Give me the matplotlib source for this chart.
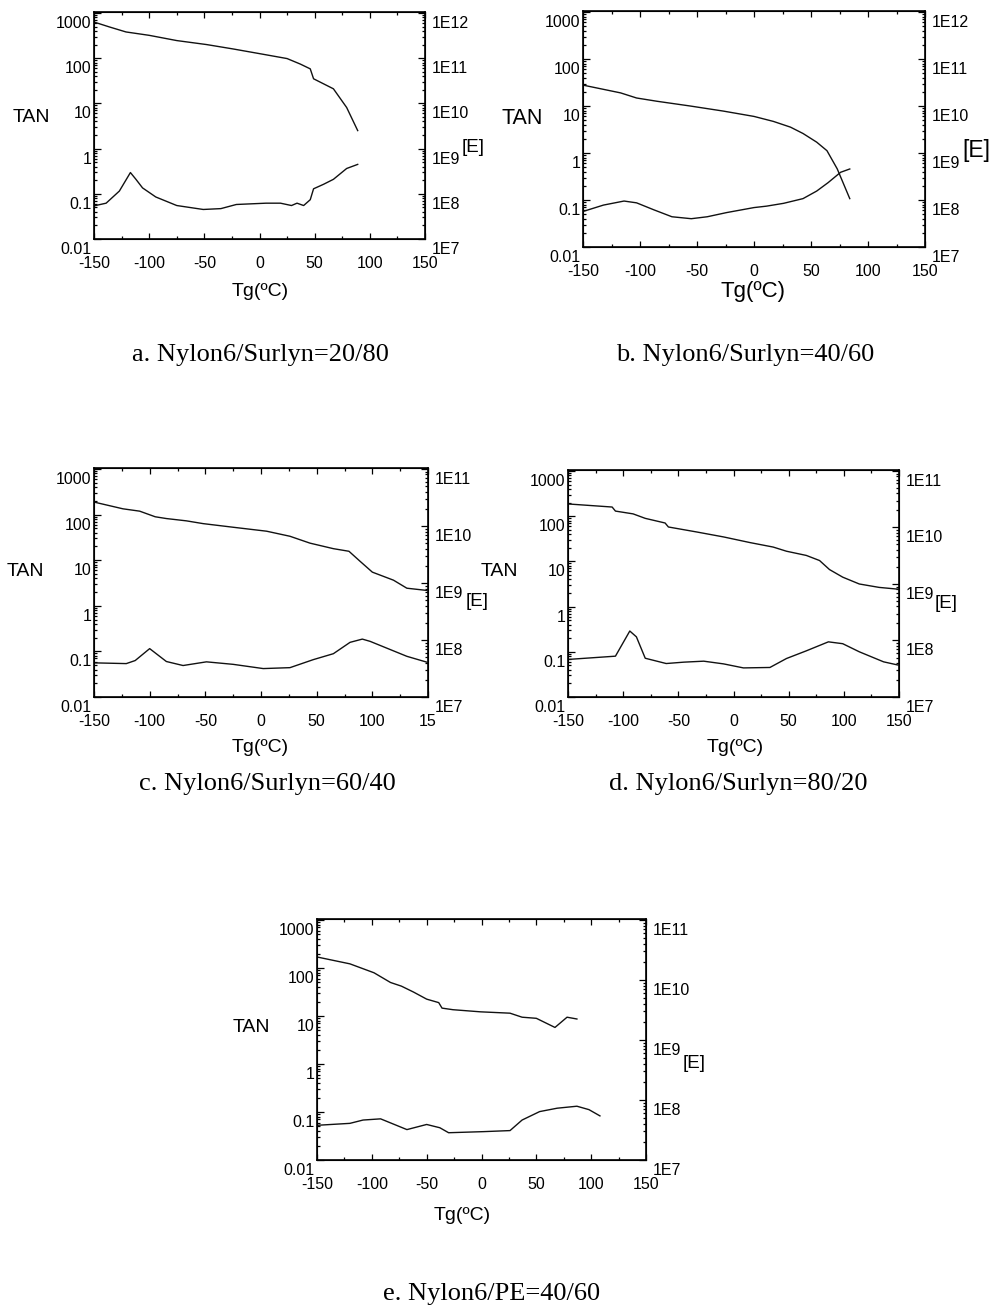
import matplotlib
matplotlib.use("Agg")
import matplotlib.pyplot as plt
import matplotlib.transforms as mtransforms
from matplotlib.ticker import LogLocator, NullFormatter, MultipleLocator
import numpy as np

plt.rcParams["font.family"] = ["Liberation Sans", "DejaVu Sans"]

W, H, DPI = 992, 1315, 100

# --- DMA data: E' modulus (right axis) and tan delta (left axis) vs temperature ---
a_temp_E = [-150, -136, -121, -100, -75, -48, -24, 0, 25, 37, 46, 49, 67, 79, 89]
a_E = [6.3e11, 4.9e11, 3.8e11, 3.2e11, 2.45e11, 2.0e11, 1.6e11, 1.26e11, 9.8e10,
       7.4e10, 5.8e10, 3.5e10, 2.1e10, 8.1e9, 2.5e9]
a_temp_tan = [-150, -139, -127, -117, -112, -106, -94, -75, -51, -35, -21, 6, 19,
              29, 34, 40, 46, 49, 58, 67, 79, 89]
a_tan = [0.054, 0.062, 0.115, 0.295, 0.209, 0.135, 0.085, 0.055, 0.045, 0.047,
         0.058, 0.062, 0.062, 0.055, 0.062, 0.055, 0.074, 0.129, 0.162, 0.209,
         0.363, 0.447]

b_temp_E = [-149, -117, -103, -85, -56, -27, 0, 17, 32, 43, 55, 64, 73, 84]
b_E = [2.75e10, 1.9e10, 1.48e10, 1.26e10, 1.0e10, 7.8e9, 6.0e9, 4.7e9, 3.55e9,
       2.6e9, 1.7e9, 1.12e9, 4.6e8, 1.07e8]
b_temp_tan = [-149, -132, -114, -103, -88, -72, -55, -41, -24, 0, 11, 26, 43, 55,
              65, 76, 84]
b_tan = [0.058, 0.078, 0.095, 0.087, 0.062, 0.044, 0.040, 0.044, 0.054, 0.069,
         0.074, 0.085, 0.107, 0.155, 0.234, 0.389, 0.457]

c_temp_E = [-149, -124, -109, -95, -85, -67, -52, -25, 5, 26, 44, 65, 79, 89, 100,
            119, 131, 149]
c_E = [2.6e10, 2.0e10, 1.82e10, 1.45e10, 1.35e10, 1.23e10, 1.1e10, 9.5e9, 8.1e9,
       6.6e9, 5.0e9, 4.0e9, 3.6e9, 2.4e9, 1.55e9, 1.12e9, 8.1e8, 7.4e8]
c_temp_tan = [-149, -121, -113, -100, -85, -70, -49, -25, 2, 26, 47, 65, 80, 91,
              98, 131, 149]
c_tan = [0.056, 0.054, 0.063, 0.115, 0.060, 0.049, 0.059, 0.052, 0.042, 0.044,
         0.066, 0.089, 0.158, 0.186, 0.166, 0.078, 0.058]

d_temp_E = [-149, -110, -107, -91, -80, -62, -59, -33, -9, 15, 36, 48, 66, 78, 87,
            99, 114, 132, 149]
d_E = [2.6e10, 2.3e10, 1.95e10, 1.74e10, 1.45e10, 1.2e10, 1.02e10, 8.3e9, 6.8e9,
       5.4e9, 4.5e9, 3.8e9, 3.2e9, 2.6e9, 1.8e9, 1.32e9, 1.0e9, 8.7e8, 8.1e8]
d_temp_tan = [-149, -107, -94, -88, -80, -61, -45, -27, -9, 9, 33, 48, 66, 86, 99,
              114, 136, 149]
d_tan = [0.068, 0.080, 0.288, 0.214, 0.072, 0.055, 0.059, 0.062, 0.054, 0.044,
         0.045, 0.071, 0.105, 0.166, 0.151, 0.100, 0.060, 0.051]

e_temp_E = [-149, -120, -98, -83, -73, -62, -50, -39, -36, -26, -1, 26, 37, 50, 67,
            78, 87]
e_E = [2.4e10, 1.86e10, 1.32e10, 9.1e9, 7.9e9, 6.3e9, 4.8e9, 4.2e9, 3.4e9, 3.2e9,
       2.95e9, 2.8e9, 2.4e9, 2.3e9, 1.62e9, 2.4e9, 2.24e9]
e_temp_tan = [-149, -120, -108, -92, -68, -50, -38, -30, 2, 26, 37, 53, 69, 87, 98,
              108]
e_tan = [0.053, 0.058, 0.068, 0.072, 0.043, 0.055, 0.047, 0.037, 0.039, 0.041,
         0.068, 0.102, 0.120, 0.132, 0.112, 0.083]

temp_ticks = [-150, -100, -50, 0, 50, 100, 150]
temp_labels = ["-150", "-100", "-50", "0", "50", "100", "150"]
temp_labels_c = ["-150", "-100", "-50", "0", "50", "100", "15"]
tan_ticks = [0.01, 0.1, 1, 10, 100, 1000]
tan_labels = ["0.01", "0.1", "1", "10", "100", "1000"]
E_ticks_5 = [1e7, 1e8, 1e9, 1e10, 1e11, 1e12]
E_labels_5 = ["1E7", "1E8", "1E9", "1E10", "1E11", "1E12"]
E_ticks_4 = [1e7, 1e8, 1e9, 1e10, 1e11]
E_labels_4 = ["1E7", "1E8", "1E9", "1E10", "1E11"]

fig = plt.figure(figsize=(W / DPI, H / DPI), dpi=DPI)
LINE = "#111111"


def px_rect(box):
    left, top, right, bottom = box
    return [left / W, 1 - bottom / H, (right - left) / W, (bottom - top) / H]


def to_axes(box, x, y):
    left, top, right, bottom = box
    return (x - left) / (right - left), (bottom - y) / (bottom - top)


def shift_down(axis, px):
    off = mtransforms.ScaledTranslation(0, -px / DPI, fig.dpi_scale_trans)
    for tick in axis.get_major_ticks():
        tick.label1.set_transform(tick.label1.get_transform() + off)
        tick.label2.set_transform(tick.label2.get_transform() + off)


def panel(box, temp_E, E, temp_tan, tan, E_ticks, E_labels, E_top, xlabels,
          tan_pos, e_pos, tg_pos, caption, cap_pos, big=False):
    ax = fig.add_axes(px_rect(box))
    ax.plot(temp_tan, tan, color=LINE, lw=1.0)
    ax.set_xlim(-150, 150)
    ax.set_yscale("log")
    ax.set_ylim(0.01, 1050)
    ax.set_yticks(tan_ticks, tan_labels)
    ax.yaxis.set_minor_locator(LogLocator(base=10, subs=np.arange(2, 10)))
    ax.yaxis.set_minor_formatter(NullFormatter())
    ax.set_xticks(temp_ticks, xlabels)
    ax.xaxis.set_minor_locator(MultipleLocator(25))
    ax.tick_params(which="both", direction="in", top=True, labelsize=11.5,
                   width=0.9)
    ax.tick_params(axis="y", which="major", length=5, pad=2)
    ax.tick_params(axis="x", which="major", length=4, pad=12)
    ax.tick_params(which="minor", length=2)
    for s in ax.spines.values():
        s.set_linewidth(1.2)

    ax2 = ax.twinx()
    ax2.plot(temp_E, E, color=LINE, lw=1.0)
    ax2.set_yscale("log")
    ax2.set_ylim(1e7, E_top)
    ax2.set_yticks(E_ticks, E_labels)
    ax2.yaxis.set_minor_locator(LogLocator(base=10, subs=np.arange(2, 10)))
    ax2.yaxis.set_minor_formatter(NullFormatter())
    ax2.tick_params(which="both", direction="in", labelsize=11.5, width=0.9)
    ax2.tick_params(which="major", length=5, pad=5)
    ax2.tick_params(which="minor", length=2)

    shift_down(ax.yaxis, 9)
    shift_down(ax2.yaxis, 9)

    fs_tan, fs_e, fs_tg = (15.5, 16.5, 16) if big else (14, 13.5, 14)
    ax.set_ylabel("TAN", rotation=0, fontsize=fs_tan, ha="center", va="center")
    ax.yaxis.set_label_coords(*to_axes(box, *tan_pos))
    ax2.set_ylabel("[E]", rotation=0, fontsize=fs_e, ha="center", va="center")
    ax2.yaxis.set_label_coords(*to_axes(box, *e_pos))
    ax.set_xlabel("Tg(ºC)", fontsize=fs_tg, va="center")
    ax.xaxis.set_label_coords(*to_axes(box, *tg_pos))

    fig.text(cap_pos[0] / W, 1 - cap_pos[1] / H, caption, ha="center",
             va="center", fontsize=19, family="Liberation Serif")


panel((94, 12, 425, 239), a_temp_E, a_E, a_temp_tan, a_tan, E_ticks_5, E_labels_5,
      1.05e12, temp_labels, (31, 117), (473, 147), (260, 292),
      "a. Nylon6/Surlyn=20/80", (260, 355))
panel((583, 11, 925, 247), b_temp_E, b_E, b_temp_tan, b_tan, E_ticks_5, E_labels_5,
      1.05e12, temp_labels, (522, 118), (976, 150), (753, 292),
      "b. Nylon6/Surlyn=40/60", (745, 355), big=True)
panel((94, 468, 428, 697), c_temp_E, c_E, c_temp_tan, c_tan, E_ticks_4, E_labels_4,
      1.04e11, temp_labels_c, (25, 572), (477, 602), (260, 748),
      "c. Nylon6/Surlyn=60/40", (267, 784))
panel((568, 470, 899, 697), d_temp_E, d_E, d_temp_tan, d_tan, E_ticks_4, E_labels_4,
      1.04e11, temp_labels, (499, 572), (946, 603), (735, 748),
      "d. Nylon6/Surlyn=80/20", (738, 784))
panel((317, 919, 646, 1160), e_temp_E, e_E, e_temp_tan, e_tan, E_ticks_4, E_labels_4,
      1.04e11, temp_labels, (251, 1027), (694, 1064), (462, 1215),
      "e. Nylon6/PE=40/60", (492, 1294))

fig.savefig("out.png", dpi=DPI)
